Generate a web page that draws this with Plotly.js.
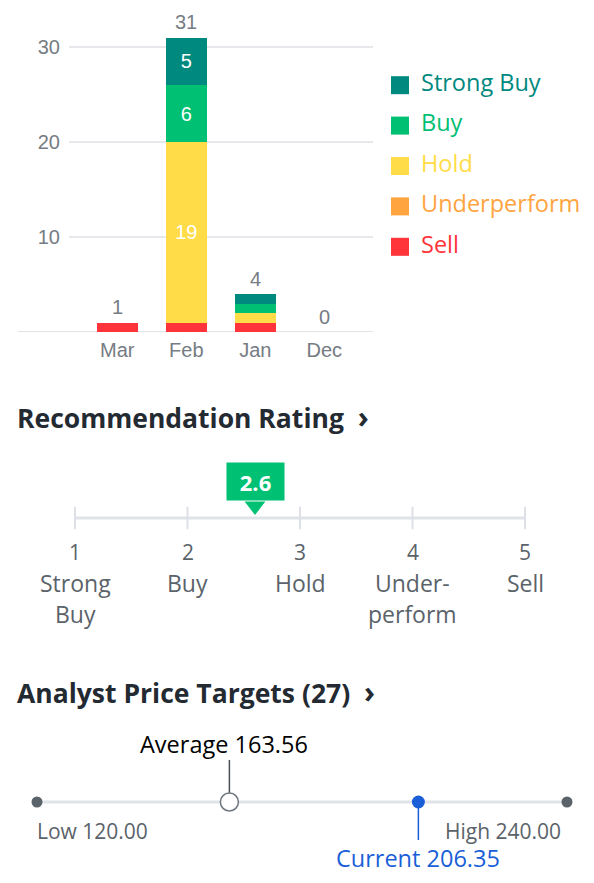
<!DOCTYPE html>
<html>
<head>
<meta charset="utf-8">
<script src="https://cdn.plot.ly/plotly-3.0.1.min.js"></script>
<style>html,body{margin:0;padding:0;background:#fff;}#chart{width:594px;height:883px;}</style>
</head>
<body>
<div id="chart"></div>
<script>
// ---- Data ----
var months = ['Mar', 'Feb', 'Jan', 'Dec'];
var seriesNames = ['Strong Buy', 'Buy', 'Hold', 'Underperform', 'Sell'];
var seriesColors = ['#00897f', '#00c073', '#ffdc48', '#ffa43f', '#ff333a'];
var strongBuy = [0, 5, 1, 0];
var buy = [0, 6, 1, 0];
var hold = [0, 19, 1, 0];
var underperform = [0, 0, 0, 0];
var sell = [1, 1, 1, 0];

var ratingTicks = [1, 2, 3, 4, 5];
var ratingNames = [['Strong', 'Buy'], ['Buy'], ['Hold'], ['Under-', 'perform'], ['Sell']];
var ratingValue = 2.6;

var priceLow = 120.00;
var priceHigh = 240.00;
var priceAverage = 163.56;
var priceCurrent = 206.35;
var priceTargetCount = 27;

// ---- Helpers ----
var W = 594, H = 883;
function px(x) { return x / W; }
function py(y) { return 1 - y / H; }
var LEGEND_TEXT_GAP = 21; // px between swatch centre and label start

var seriesValues = [strongBuy, buy, hold, underperform, sell];
var totals = months.map(function (m, i) {
  return seriesValues.reduce(function (s, arr) { return s + arr[i]; }, 0);
});

var barFont = 'Liberation Sans, Arial, sans-serif';
var uiFont = 'Open Sans, Noto Sans, sans-serif';
var grayAxis = '#767c83';
var grayText = '#5b636a';

var traces = [];
// Stacked bars: bottom first (Sell) up to Strong Buy
for (var k = seriesNames.length - 1; k >= 0; k--) {
  var vals = seriesValues[k];
  traces.push({
    type: 'bar', x: months, y: vals, name: seriesNames[k],
    marker: { color: seriesColors[k], line: { width: 0 } },
    text: vals.map(function (v) { return v >= 3 ? String(v) : ''; }),
    textposition: 'inside', insidetextanchor: 'middle',
    textfont: { color: '#ffffff', size: 20, family: barFont },
    hoverinfo: 'skip', xaxis: 'x', yaxis: 'y', showlegend: false
  });
}
// Legend drawn as traces (swatches + coloured labels)
traces.push({
  type: 'scatter', mode: 'markers', x: seriesNames.map(function () { return 0; }), y: seriesNames,
  marker: { symbol: 'square', size: 18, color: seriesColors },
  hoverinfo: 'skip', xaxis: 'x2', yaxis: 'y2', cliponaxis: false, showlegend: false
});
traces.push({
  type: 'scatter', mode: 'text', x: seriesNames.map(function () { return LEGEND_TEXT_GAP; }), y: seriesNames,
  text: seriesNames, textposition: 'middle right',
  textfont: { color: seriesColors, size: 23.5, family: uiFont },
  hoverinfo: 'skip', xaxis: 'x2', yaxis: 'y2', cliponaxis: false, showlegend: false
});

// Rating scale
traces.push({
  type: 'scatter', mode: 'lines', x: [ratingTicks[0], ratingTicks[ratingTicks.length - 1]], y: [0, 0],
  line: { color: '#e0e4e9', width: 3 }, hoverinfo: 'skip', xaxis: 'x3', yaxis: 'y3', showlegend: false
});
traces.push({
  type: 'scatter', mode: 'markers', x: ratingTicks, y: ratingTicks.map(function () { return 0; }),
  marker: { symbol: 'line-ns-open', size: 16, color: '#dde1e6', line: { color: '#dde1e6', width: 2 } },
  hoverinfo: 'skip', xaxis: 'x3', yaxis: 'y3', cliponaxis: false, showlegend: false
});
traces.push({
  type: 'scatter', mode: 'markers', x: [ratingValue], y: [12],
  marker: { symbol: 'triangle-down', size: 18, color: '#00c073' },
  hoverinfo: 'skip', xaxis: 'x3', yaxis: 'y3', cliponaxis: false, showlegend: false
});

// Price targets
traces.push({
  type: 'scatter', mode: 'lines', x: [priceLow, priceHigh], y: [0, 0],
  line: { color: '#e0e4e9', width: 3 }, hoverinfo: 'skip', xaxis: 'x4', yaxis: 'y4', showlegend: false
});
traces.push({
  type: 'scatter', mode: 'markers', x: [priceLow, priceHigh], y: [0, 0],
  marker: { size: 11, color: grayText }, hoverinfo: 'skip', xaxis: 'x4', yaxis: 'y4', cliponaxis: false, showlegend: false
});
traces.push({
  type: 'scatter', mode: 'lines', x: [priceAverage, priceAverage], y: [9, 42],
  line: { color: '#464e56', width: 1.5 }, hoverinfo: 'skip', xaxis: 'x4', yaxis: 'y4', showlegend: false
});
traces.push({
  type: 'scatter', mode: 'markers', x: [priceAverage], y: [0],
  marker: { size: 18, color: '#ffffff', line: { color: '#6e7780', width: 1.5 } },
  hoverinfo: 'skip', xaxis: 'x4', yaxis: 'y4', cliponaxis: false, showlegend: false
});
traces.push({
  type: 'scatter', mode: 'lines', x: [priceCurrent, priceCurrent], y: [0, -38],
  line: { color: '#1a5fd8', width: 1.5 }, hoverinfo: 'skip', xaxis: 'x4', yaxis: 'y4', showlegend: false
});
traces.push({
  type: 'scatter', mode: 'markers', x: [priceCurrent], y: [0],
  marker: { size: 13, color: '#1a5fd8' },
  hoverinfo: 'skip', xaxis: 'x4', yaxis: 'y4', cliponaxis: false, showlegend: false
});

// ---- Annotations ----
var annotations = [];
// Totals above bars
months.forEach(function (m, i) {
  annotations.push({
    xref: 'x', yref: 'y', x: m, y: totals[i], xanchor: 'center', yanchor: 'bottom', yshift: 2,
    text: String(totals[i]), showarrow: false,
    font: { family: barFont, size: 20, color: grayAxis }
  });
});
var chevron = '  <span style="font-size:30px">›</span>';
annotations.push({
  xref: 'paper', yref: 'paper', x: px(18), y: py(416), xanchor: 'left', yanchor: 'middle', xshift: -3,
  text: '<b>Recommendation Rating' + chevron + '</b>', showarrow: false,
  font: { family: uiFont, size: 26.5, color: '#232a31' }
});
annotations.push({
  xref: 'paper', yref: 'paper', x: px(18), y: py(691), xanchor: 'left', yanchor: 'middle', xshift: -3,
  text: '<b>Analyst Price Targets (' + priceTargetCount + ')' + chevron + '</b>', showarrow: false,
  font: { family: uiFont, size: 26.5, color: '#232a31' }
});
ratingTicks.forEach(function (t, i) {
  annotations.push({
    xref: 'x3', yref: 'paper', x: t, y: py(552), xanchor: 'center', yanchor: 'middle',
    text: String(t), showarrow: false, font: { family: uiFont, size: 21, color: grayText }
  });
  ratingNames[i].forEach(function (line, j) {
    annotations.push({
      xref: 'x3', yref: 'paper', x: t, y: py(583 + 30.5 * j), xanchor: 'center', yanchor: 'middle',
      text: line, showarrow: false, font: { family: uiFont, size: 23, color: grayText }
    });
  });
});
annotations.push({
  xref: 'x3', yref: 'y3', x: ratingValue, y: 37, xanchor: 'center', yanchor: 'middle',
  text: '<b>' + ratingValue.toFixed(1) + '</b>', showarrow: false,
  bgcolor: '#00c073', width: 57, height: 37, borderpad: 0,
  font: { family: uiFont, size: 22, color: '#ffffff' }
});
annotations.push({
  xref: 'x4', yref: 'y4', x: priceAverage, y: 58, xanchor: 'center', yanchor: 'middle', xshift: -5,
  text: 'Average ' + priceAverage.toFixed(2), showarrow: false,
  font: { family: uiFont, size: 23.5, color: '#000000' }
});
annotations.push({
  xref: 'x4', yref: 'y4', x: priceLow, y: -29, xanchor: 'left', yanchor: 'middle', xshift: -2,
  text: 'Low ' + priceLow.toFixed(2), showarrow: false,
  font: { family: uiFont, size: 21, color: grayText }
});
annotations.push({
  xref: 'x4', yref: 'y4', x: priceHigh, y: -29, xanchor: 'right', yanchor: 'middle', xshift: -4,
  text: 'High ' + priceHigh.toFixed(2), showarrow: false,
  font: { family: uiFont, size: 21, color: grayText }
});
annotations.push({
  xref: 'x4', yref: 'y4', x: priceCurrent, y: -56, xanchor: 'center', yanchor: 'middle',
  text: 'Current ' + priceCurrent.toFixed(2), showarrow: false,
  font: { family: uiFont, size: 23.5, color: '#1a5fd8' }
});

var hidden = { visible: false, fixedrange: true };
var layout = {
  width: W, height: H,
  margin: { l: 0, r: 0, t: 0, b: 0 },
  paper_bgcolor: '#ffffff', plot_bgcolor: 'rgba(0,0,0,0)',
  showlegend: false, barmode: 'stack', bargap: 0.4,
  xaxis: {
    domain: [px(69), px(372.6)], anchor: 'y', type: 'category', range: [-0.7, 3.7],
    showgrid: false, showline: false, zeroline: false, ticks: '', ticklabelstandoff: 4,
    tickfont: { family: barFont, size: 20, color: grayAxis }, fixedrange: true
  },
  yaxis: {
    domain: [py(332), py(9)], anchor: 'x', range: [0, 34],
    tickvals: [10, 20, 30], showgrid: true, gridcolor: '#e6e8eb', gridwidth: 1.5,
    zeroline: false, showline: false, ticks: '', ticklabelstandoff: 8,
    tickfont: { family: barFont, size: 20, color: grayAxis }, fixedrange: true
  },
  xaxis2: Object.assign({ domain: [px(400), 1], anchor: 'y2', range: [0, W - 400] }, hidden),
  yaxis2: Object.assign({ domain: [py(267), py(65)], anchor: 'x2', type: 'category', range: [4.5, -0.5] }, hidden),
  xaxis3: Object.assign({ domain: [px(75), px(525)], anchor: 'y3', range: [1, 5] }, hidden),
  yaxis3: Object.assign({ domain: [py(540), py(440)], anchor: 'x3', range: [-22, 78] }, hidden),
  xaxis4: Object.assign({ domain: [px(37), px(567)], anchor: 'y4', range: [priceLow, priceHigh] }, hidden),
  yaxis4: Object.assign({ domain: [py(872), py(732)], anchor: 'x4', range: [-70, 70] }, hidden),
  shapes: [{
    type: 'line', xref: 'paper', yref: 'y', x0: px(18), x1: px(372.6), y0: 0, y1: 0,
    line: { color: '#e0e4e9', width: 2 }, layer: 'below'
  }],
  annotations: annotations
};

Plotly.newPlot('chart', traces, layout, { displayModeBar: false, staticPlot: true });
</script>
</body>
</html>
